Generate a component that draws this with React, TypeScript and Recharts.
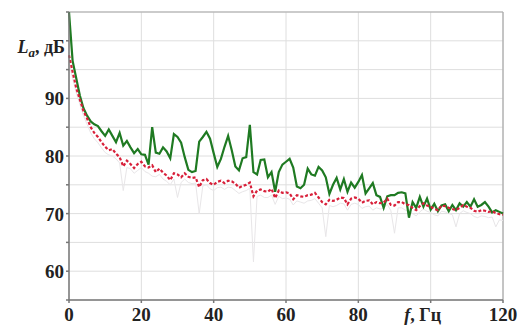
import { CartesianGrid, Line, LineChart, ReferenceLine, XAxis, YAxis } from 'recharts';

// sound level, dB, sampled every 1 Hz from 0 to 120 Hz
const green = [
  105, 96.5, 93.5, 90.5, 88.3, 87, 86, 85.5, 85.2, 84.3,
  83.5, 84.6, 83.5, 82.4, 84, 81.8, 82.6, 81.5, 80.5, 81.2,
  80.3, 80.2, 78.5, 85, 80.6, 80.4, 81.5, 80.8, 79.6, 83.8,
  83.3, 82.3, 79.8, 77.6, 77.2, 77.4, 82.5, 83.3, 84.2, 83,
  80.5, 78.1, 79.5, 81.6, 83.5, 81, 78.2, 77.5, 79.6, 79.8,
  85.4, 77.2, 76.8, 79.3, 79.4, 76.3, 77.2, 73.8, 77.2, 78.5,
  79, 79.5, 78, 74.7, 74.4, 75, 77.8, 76.8, 76.6, 78.1,
  77.5, 76.3, 73.4, 75, 76.2, 74.2, 76, 73.8, 75.4, 74.5,
  75.5, 76.7, 73.5, 74.4, 75.3, 73.2, 72.9, 71, 73, 73.2,
  73.2, 73.6, 73.7, 73.5, 69.3, 72, 71, 72.9, 71.2, 72.6,
  70.7, 71.7, 70.4, 71.4, 71.6, 70.4, 71.5, 70.6, 71.8, 71.2,
  72, 71.2, 72.5, 71.2, 71.5, 72, 71.2, 70.2, 70.6, 70.3,
  70,
];

const red = [
  97.5, 94.6, 91.8, 89.8, 87.8, 86.5, 85, 84, 83.3, 82.4,
  81.6, 81, 81.2, 80.4, 79.8, 78.2, 79.2, 78.6, 77.9, 78.6,
  79, 78.2, 78, 78.4, 77.2, 77.8, 77.1, 76.6, 75.8, 77,
  76.8, 76.3, 77, 76.4, 76.2, 76.3, 74.6, 75.8, 76, 75.3,
  75, 75.5, 75.7, 75.3, 75.7, 75.6, 75.2, 74.5, 74.8, 75,
  75.4, 73, 74, 74.2, 73.9, 73.8, 74.3, 72.7, 74, 73.6,
  73.7, 73.5, 72.5, 73.2, 73, 72.9, 73.2, 73.3, 73.6, 72.8,
  72, 71.6, 72.4, 72.2, 72.4, 72.8, 72.7, 71.6, 72.6, 72.8,
  72.6, 71.9, 72.2, 72.3, 71.6, 72, 71.8, 71.9, 72.6, 71.5,
  71.4, 72, 72, 71.6, 71.5, 71, 70.6, 71.3, 71.8, 71.4,
  71.2, 70.8, 70.6, 71.4, 71.3, 71, 70.8, 70.6, 71, 71.5,
  71.2, 71, 70.5, 70.3, 70.6, 70.5, 70.3, 70.4, 70.1, 69.9,
  69.8,
];

const gray = [
  96, 93.5, 91, 89, 87, 85.5, 84, 83, 82.3, 81.4,
  80.6, 80.2, 80, 79.5, 78.8, 74, 78, 77.8, 77, 77.5,
  78, 77.3, 77, 76.5, 76.4, 76.8, 76, 75.6, 75, 76,
  72.8, 75.4, 76, 75.4, 75.2, 75.3, 70, 74.8, 75, 74.3,
  74, 74.5, 74.6, 74.2, 74.6, 74.5, 74, 73.5, 73.8, 74,
  74.4, 61.6, 73, 73.2, 72.8, 72.8, 73.2, 71.6, 73, 72.6,
  72.7, 72.5, 71.5, 72.2, 72, 71.8, 72.2, 72.3, 72.6, 71.8,
  71, 66, 71.4, 71.2, 71.4, 71.8, 71.7, 70.6, 71.6, 71.8,
  71.6, 70.9, 71.2, 71.3, 70.6, 71, 70.8, 70.9, 71.6, 70.5,
  66.6, 71, 71, 70.6, 70.5, 70, 69.6, 70.3, 70.8, 70.4,
  70.2, 69.8, 69.6, 70.4, 70.3, 70, 69.8, 67.7, 70, 70.5,
  70.2, 70, 69.5, 69.3, 69.6, 69.5, 69.3, 69.4, 67.7, 68.9,
  68.8,
];

const xTicks = [0, 20, 40, 60, 80, 100, 120];
const yTicks = [55, 60, 65, 70, 75, 80, 85, 90, 95, 100, 105];
const yLabels = [60, 70, 80, 90];

const FONT = '"Liberation Serif", "Times New Roman", serif';

const data = green.map((g, i) => ({ f: i, green: g, red: red[i], gray: gray[i] }));

function XTick({ x, y, payload }: any) {
  if (payload.value === 100) {
    return (
      <text x={x - 8} y={y + 16} textAnchor="middle" fontFamily={FONT} fontSize={18} fontWeight="bold" fill="#222">
        <tspan fontStyle="italic">f</tspan>, Гц
      </text>
    );
  }
  return (
    <text x={x} y={y + 16} textAnchor="middle" fontFamily={FONT} fontSize={19} fontWeight="bold" fill="#222">
      {payload.value}
    </text>
  );
}

function YTick({ x, y, payload }: any) {
  if (payload.value === 100) {
    return (
      <text x={x + 1} y={y + 12} textAnchor="end" fontFamily={FONT} fontSize={18} fontWeight="bold" fill="#222">
        <tspan fontStyle="italic">L</tspan>
        <tspan fontStyle="italic" fontSize={13} dy={4}>a</tspan>
        <tspan dy={-4}>, дБ</tspan>
      </text>
    );
  }
  if (!yLabels.includes(payload.value)) return <g />;
  return (
    <text x={x} y={y + 7} textAnchor="end" fontFamily={FONT} fontSize={19} fontWeight="bold" fill="#222">
      {payload.value}
    </text>
  );
}

export default function App() {
  return (
    <div style={{ position: 'absolute', left: 0, top: 0, background: '#fff' }}>
      <LineChart width={519} height={326} data={data} margin={{ top: 12, right: 16, bottom: 0, left: 0 }}>
        <CartesianGrid stroke="#dedede" strokeWidth={1} />
        <XAxis
          dataKey="f"
          type="number"
          domain={[0, 120]}
          ticks={xTicks}
          height={26}
          stroke="#777"
          strokeWidth={1.5}
          tickSize={3}
          tick={<XTick />}
        />
        <YAxis
          type="number"
          domain={[55, 105]}
          ticks={yTicks}
          width={69}
          stroke="#777"
          strokeWidth={1.5}
          tickSize={3}
          tick={<YTick />}
          allowDataOverflow
        />
        <ReferenceLine y={105} stroke="#a8a8a8" strokeWidth={1.2} />
        <ReferenceLine x={120} stroke="#a8a8a8" strokeWidth={1.2} />
        <Line type="linear" dataKey="gray" stroke="#e8e6e8" strokeWidth={1} dot={false} isAnimationActive={false} />
        <Line type="linear" dataKey="green" stroke="#1f7a22" strokeWidth={2.2} dot={false} isAnimationActive={false} />
        <Line type="linear" dataKey="red" stroke="#d8203a" strokeWidth={2.2} strokeDasharray="3 2" dot={false} isAnimationActive={false} />
      </LineChart>
    </div>
  );
}
